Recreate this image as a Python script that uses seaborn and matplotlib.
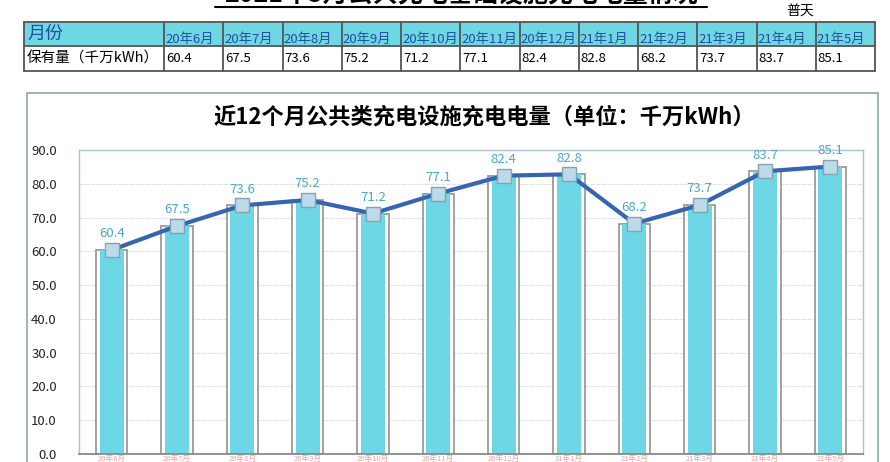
import matplotlib.pyplot as plt
import seaborn as sns
from matplotlib.patches import Rectangle
from matplotlib.lines import Line2D

months = ["20年6月", "20年7月", "20年8月", "20年9月", "20年10月", "20年11月",
          "20年12月", "21年1月", "21年2月", "21年3月", "21年4月", "21年5月"]
energy = [60.4, 67.5, 73.6, 75.2, 71.2, 77.1, 82.4, 82.8, 68.2, 73.7, 83.7, 85.1]
yticks = [0, 10, 20, 30, 40, 50, 60, 70, 80, 90]

sns.set_theme(style="white")
plt.rcParams["font.family"] = ["Noto Sans CJK SC", "DejaVu Sans"]

W, H = 890, 462
fig = plt.figure(figsize=(W / 100, H / 100), dpi=100)


def fx(px):
    return px / W


def fy(py):
    return 1 - py / H


# cropped page title at the very top
fig.text(fx(461), fy(2), "2021年5月公共充电基础设施充电电量情况", ha="center", va="baseline",
         fontsize=18, fontweight="bold", color="black")
fig.add_artist(Line2D([fx(215), fx(707)], [fy(7), fy(7)], color="black", lw=1.5))
fig.text(fx(800), fy(12), "普天", ha="center", va="center", fontsize=10, color="black")

# table
left, first_w, right = 24, 164, 875
col_w = (right - first_w) / len(months)
top, mid, bot = 22, 46, 71
fig.add_artist(Rectangle((fx(left), fy(mid)), fx(right - left), fy(top) - fy(mid),
                         facecolor="#6fd6e3", edgecolor="none"))
for yy in (top, mid, bot):
    fig.add_artist(Line2D([fx(left), fx(right)], [fy(yy), fy(yy)], color="#555555", lw=1.3))
for xx in [left, first_w] + [first_w + col_w * (i + 1) for i in range(len(months))]:
    fig.add_artist(Line2D([fx(xx), fx(xx)], [fy(top), fy(bot)], color="#555555", lw=1.3))
fig.text(fx(left + 3), fy(34), "月份", ha="left", va="center", fontsize=13, color="#1f4f9c")
fig.text(fx(left + 3), fy(59), "保有量（千万kWh）", ha="left", va="center", fontsize=10.5, color="black")
for i, (m, v) in enumerate(zip(months, energy)):
    x0 = first_w + col_w * i + 1
    fig.text(fx(x0), fy(46), m, ha="left", va="bottom", fontsize=9.5, color="#1f4f9c")
    fig.text(fx(x0 + 1), fy(59), f"{v:.1f}", ha="left", va="center", fontsize=9.5, color="black")

# chart frame
fig.add_artist(Rectangle((fx(27), fy(470)), fx(878 - 27), fy(93) - fy(470),
                         facecolor="none", edgecolor="#8fa6b6", lw=1.2))
fig.text(fx(484), fy(117), "近12个月公共类充电设施充电电量（单位：千万kWh）", ha="center",
         va="center", fontsize=16, fontweight="bold", color="black")

ax = fig.add_axes([fx(79), fy(454), fx(863 - 79), fy(150) - fy(454)])
sns.barplot(x=months, y=energy, ax=ax, width=0.48, color="white",
            edgecolor="#9a9a9a", linewidth=1.3, saturation=1)
sns.barplot(x=months, y=energy, ax=ax, width=0.37, color="#6dd7e5",
            edgecolor="none", saturation=1)
sns.pointplot(x=months, y=energy, ax=ax, color="#3565b0", markers="s",
              errorbar=None, markersize=10, linewidth=3,
              markerfacecolor="#bcdbea", markeredgecolor="#8aa0b0",
              markeredgewidth=1)
ax.bar_label(ax.containers[0], labels=[f"{v:.1f}" for v in energy], padding=7,
             fontsize=9.5, color="#4aa6d2")

ax.set_ylim(0, 90)
ax.set_xlim(-0.5, len(months) - 0.5)
ax.set_yticks(yticks)
ax.set_yticklabels([f"{t:.1f}" for t in yticks], fontsize=9.5, color="#222222")
ax.tick_params(axis="y", pad=16, length=0)
ax.tick_params(axis="x", labelsize=5.5, labelcolor="#eaa6a6", pad=1, length=0)
ax.yaxis.grid(True, color="#e2e2e2", lw=0.8, ls=(0, (4, 1)))
ax.set_axisbelow(True)
for side in ("left", "top", "right"):
    ax.spines[side].set_color("#a9c2cf")
    ax.spines[side].set_linewidth(1)
ax.spines["bottom"].set_color("#8a8a8a")
ax.spines["bottom"].set_linewidth(1.3)
ax.set_xlabel("")
ax.set_ylabel("")

fig.savefig("out.png", dpi=100)
